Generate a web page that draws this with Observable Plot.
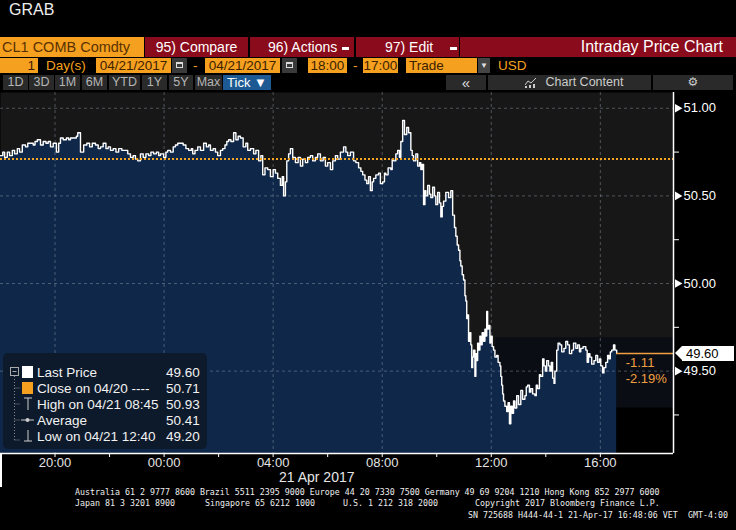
<!DOCTYPE html>
<html><head><meta charset="utf-8">
<script src="https://cdn.jsdelivr.net/npm/d3@7"></script>
<script src="https://cdn.jsdelivr.net/npm/@observablehq/plot@0.6"></script>
<style>
body{margin:0;background:#000;width:736px;height:530px;overflow:hidden;position:relative;font-family:"Liberation Sans",Arial,sans-serif;}
.a{position:absolute;white-space:pre;box-sizing:border-box;}
.r1{top:37px;height:20px;line-height:20px;font-size:14px;}
.red{background:#8a0b1b;color:#fff;}
.dash{display:inline-block;width:7px;height:3px;background:#fff;vertical-align:middle;margin-left:5px;}
.r2{top:58px;height:15px;line-height:15px;font-size:13.5px;}
.or{background:#f5a01e;color:#3d2200;}
.ot{color:#f5a01e;}
.ic{background:#3a3a3a;}
.ic i{position:absolute;left:4px;top:4px;width:7px;height:6px;border:1px solid #ddd;border-top-width:2px;box-sizing:border-box;}
.r3{top:75px;height:15px;line-height:15px;font-size:12.5px;background:#2a2a2a;color:#b5b5b5;text-align:center;}
.ft{font-family:"DejaVu Sans Mono",monospace;font-size:8.3px;color:#eee;line-height:11px;}
#chart{position:absolute;left:0;top:92px;}
#legend{left:3px;top:353px;width:204px;height:96px;background:#0d1a2b;border-radius:5px;}
#tag{height:15px;line-height:15px;background:#fff;color:#000;font-size:13px;padding-left:4px;width:52px;}
#tag:before{content:"";position:absolute;left:-7px;top:0;border-top:7.5px solid transparent;border-bottom:7.5px solid transparent;border-right:7px solid #fff;}
</style></head><body>

<div class="a" style="left:9px;top:1px;font-size:16px;color:#eee;">GRAB</div>

<div class="a r1" style="left:0;width:144px;background:#f5a01e;color:#5a3200;padding-left:2px;font-size:14.5px">CL1 COMB Comdty</div>
<div class="a r1 red" style="left:145px;width:103px;text-align:center">95) Compare</div>
<div class="a r1 red" style="left:250px;width:104px;padding-left:18px">96) Actions<span class="dash"></span></div>
<div class="a r1 red" style="left:356px;width:103px;padding-left:29px">97) Edit<span class="dash" style="margin-left:17px"></span></div>
<div class="a r1 red" style="left:460px;width:276px;text-align:right;padding-right:13px;font-size:16px">Intraday Price Chart</div>

<div class="a r2 or" style="left:0;width:38px;text-align:right;padding-right:3px">1</div>
<div class="a r2 ot" style="left:46px">Day(s)</div>
<div class="a r2 or" style="left:96px;width:75px;text-align:center">04/21/2017</div>
<div class="a r2 ic" style="left:172px;width:15px"><i></i></div>
<div class="a r2 ot" style="left:193px">-</div>
<div class="a r2 or" style="left:205px;width:75px;text-align:center">04/21/2017</div>
<div class="a r2 ic" style="left:282px;width:15px"><i></i></div>
<div class="a r2 or" style="left:308px;width:39px;text-align:center">18:00</div>
<div class="a r2 ot" style="left:353px">-</div>
<div class="a r2 or" style="left:363px;width:35px;text-align:center">17:00</div>
<div class="a r2 or" style="left:406px;width:71px;padding-left:3px">Trade</div>
<div class="a r2" style="left:478px;width:12px;background:#444;color:#ddd;font-size:8px;text-align:center">▼</div>
<div class="a r2 ot" style="left:498px">USD</div>

<div class="a r3" style="left:3px;width:25px">1D</div>
<div class="a r3" style="left:29px;width:25px">3D</div>
<div class="a r3" style="left:55px;width:25px">1M</div>
<div class="a r3" style="left:82px;width:25px">6M</div>
<div class="a r3" style="left:109px;width:31px">YTD</div>
<div class="a r3" style="left:142px;width:25px">1Y</div>
<div class="a r3" style="left:169px;width:24px">5Y</div>
<div class="a r3" style="left:195px;width:27px">Max</div>
<div class="a r3" style="left:223px;width:48px;background:#1d5a93;color:#fff;font-size:13px">Tick ▼</div>
<div class="a r3" style="left:446px;width:40px;font-size:15px;color:#ddd">«</div>
<div class="a r3" style="left:488px;width:163px;color:#ccc;padding-left:30px"><svg width="12" height="10" style="position:absolute;left:37px;top:3px"><polyline points="0,7 3,3 6,5 11,0" fill="none" stroke="#ccc" stroke-width="1"/><rect x="0" y="8" width="2" height="2" fill="#ccc"/><rect x="4" y="7" width="2" height="3" fill="#ccc"/><rect x="8" y="6" width="2" height="4" fill="#ccc"/></svg>Chart Content</div>
<div class="a r3" style="left:653px;width:80px;color:#ccc;font-family:'DejaVu Sans';font-size:12px">⚙</div>

<div id="chart"></div>
<div id="legend" class="a"></div>
<div id="tag" class="a"></div>

<div class="a" style="left:0;top:453px;width:1.5px;height:34px;background:#fff"></div>
<div class="a" style="left:279px;top:469px;font-size:14px;color:#e6e6e6">21 Apr 2017</div>

<div class="a ft" style="left:75px;top:486.5px">Australia 61 2 9777 8600 Brazil 5511 2395 9000 Europe 44 20 7330 7500 Germany 49 69 9204 1210 Hong Kong 852 2977 6000</div>
<div class="a ft" style="left:75px;top:497.5px">Japan 81 3 3201 8900</div>
<div class="a ft" style="left:205px;top:497.5px">Singapore 65 6212 1000</div>
<div class="a ft" style="left:343px;top:497.5px">U.S. 1 212 318 2000</div>
<div class="a ft" style="left:475px;top:497.5px">Copyright 2017 Bloomberg Finance L.P.</div>
<div class="a ft" style="left:468px;top:509.5px">SN 725688 H444-44-1 21-Apr-17 16:48:06 VET</div>
<div class="a ft" style="left:688px;top:509.5px">GMT-4:00</div>

<script>
// ---- data: CL1 tick prices, 20 Apr 18:00 -> 21 Apr 16:36 (times >= 18:00 are 20 Apr) ----
const tickTimes = [
 "18:00","18:05","18:09","18:15","18:20","18:26","18:31","18:37","18:42","18:48","18:55",
 "19:00","19:06","19:12","19:16","19:21","19:28","19:34","19:40","19:45","19:50","19:56",
 "20:03","20:08","20:12","20:18","20:25","20:30","20:34","20:42","20:47","20:50","20:56",
 "21:03","21:10","21:16","21:22","21:29","21:35","21:40","21:46","21:52","21:57",
 "22:02","22:08","22:14","22:20","22:27","22:35","22:40","22:46","22:52","22:57",
 "23:02","23:08","23:14","23:20","23:26","23:31","23:37","23:43","23:48","23:52","23:59",
 "00:04","00:08","00:14","00:20","00:25","00:30","00:36","00:42","00:48","00:54",
 "01:00","01:03","01:08","01:14","01:20","01:27","01:33","01:38","01:42","01:48","01:53","01:58",
 "02:04","02:09","02:14","02:18","02:22","02:27","02:33","02:38","02:43","02:48","02:54",
 "03:00","03:04","03:10","03:17","03:22","03:28","03:33","03:37","03:42","03:48","03:54",
 "04:00","04:05","04:10","04:16","04:20","04:23","04:27","04:30","04:34","04:38","04:43","04:49","04:55",
 "05:00","05:05","05:11","05:16","05:22","05:27","05:33","05:38","05:44","05:50","05:55",
 "06:00","06:06","06:11","06:17","06:22","06:28","06:35","06:40","06:44","06:50","06:57",
 "07:02","07:08","07:13","07:17","07:22","07:26","07:30","07:34","07:38","07:41","07:46","07:52","07:56",
 "08:01","08:05","08:08","08:13","08:19","08:22","08:25","08:30","08:34","08:38","08:41","08:45","08:49","08:54","08:58",
 "09:03","09:06","09:09","09:14","09:18","09:22","09:25","09:28","09:31","09:34","09:36","09:40","09:44","09:47","09:51","09:55","09:58",
 "10:02","10:06","10:09","10:12","10:15","10:20","10:26","10:31","10:35","10:39","10:42","10:45","10:48","10:51","10:53","10:56","10:59",
 "11:02","11:04","11:06","11:08","11:10","11:13","11:15","11:17","11:19","11:21","11:24","11:26","11:28","11:30","11:32","11:35","11:37","11:40","11:43","11:46","11:48","11:50","11:52","11:54","11:57","11:59",
 "12:02","12:05","12:08","12:12","12:15","12:19","12:21","12:23","12:25","12:27","12:30","12:34","12:37","12:40","12:43","12:46","12:49","12:52","12:56",
 "13:00","13:05","13:09","13:14","13:17","13:20","13:24","13:27","13:31","13:36","13:39","13:42","13:46","13:49","13:53","13:56","13:59",
 "14:02","14:06","14:09","14:12","14:15","14:18","14:20","14:24","14:27","14:31","14:35","14:40","14:44","14:48","14:52","14:57",
 "15:01","15:06","15:10","15:14","15:17","15:22","15:28","15:31","15:34","15:37","15:41","15:46","15:50","15:54","15:58",
 "16:01","16:05","16:08","16:12","16:16","16:19","16:22","16:25","16:29","16:32","16:36"
];
const tickPrices = [
 50.73,50.75,50.72,50.75,50.73,50.76,50.74,50.77,50.75,50.79,50.78,
 50.80,50.80,50.79,50.81,50.82,50.79,50.81,50.80,50.81,50.78,50.80,
 50.75,50.80,50.83,50.82,50.83,50.82,50.83,50.83,50.84,50.86,50.75,
 50.79,50.80,50.78,50.80,50.79,50.77,50.78,50.80,50.77,50.78,
 50.76,50.77,50.75,50.77,50.76,50.76,50.74,50.72,50.73,50.71,
 50.70,50.74,50.72,50.74,50.73,50.75,50.74,50.75,50.73,50.74,50.72,
 50.75,50.76,50.75,50.78,50.79,50.80,50.80,50.79,50.77,50.76,
 50.77,50.74,50.76,50.78,50.76,50.80,50.78,50.79,50.76,50.77,50.75,50.73,
 50.76,50.77,50.79,50.81,50.82,50.81,50.86,50.82,50.84,50.83,50.78,
 50.80,50.76,50.77,50.74,50.76,50.70,50.73,50.62,50.66,50.65,50.61,
 50.65,50.63,50.60,50.56,50.61,50.50,50.58,50.70,50.74,50.77,50.72,50.69,50.72,
 50.67,50.71,50.69,50.72,50.73,50.70,50.72,50.74,50.70,50.72,50.67,
 50.69,50.65,50.70,50.73,50.71,50.75,50.78,50.75,50.73,50.75,50.70,
 50.69,50.66,50.64,50.62,50.59,50.57,50.61,50.53,50.58,50.60,50.62,50.63,50.57,
 50.58,50.63,50.62,50.66,50.65,50.71,50.70,50.74,50.76,50.72,50.81,50.93,50.85,50.89,50.86,
 50.76,50.73,50.70,50.74,50.67,50.69,50.65,50.68,50.45,50.53,50.50,50.56,50.51,50.49,50.55,50.50,50.45,
 50.52,50.46,50.38,50.44,50.47,50.52,50.49,50.53,50.39,50.32,50.27,50.22,50.19,50.13,50.10,50.05,50.02,
 49.93,49.90,49.80,49.82,49.67,49.72,49.65,49.52,49.58,49.62,49.47,49.60,49.56,49.66,49.62,49.70,49.65,49.72,49.67,49.74,49.70,49.84,49.74,49.76,49.66,49.70,
 49.64,49.62,49.58,49.59,49.55,49.53,49.47,49.42,49.37,49.33,49.30,49.27,49.32,49.20,49.30,49.26,49.33,49.29,49.36,
 49.31,49.39,49.34,49.36,49.41,49.42,49.38,49.40,49.37,49.36,49.42,49.40,49.48,49.47,49.57,49.53,49.50,
 49.56,49.53,49.50,49.55,49.46,49.43,49.50,49.62,49.66,49.65,49.61,49.63,49.67,49.65,49.60,49.62,
 49.66,49.63,49.65,49.61,49.63,49.64,49.62,49.55,49.60,49.58,49.54,49.56,49.59,49.55,49.57,
 49.53,49.49,49.52,49.55,49.59,49.57,49.61,49.62,49.65,49.62,49.60
];
const closePrice = 50.71;
const lastPrice = 49.60;
const legendLabels = ["Last Price", "Close on 04/20 ----", "High on 04/21 08:45", "Average", "Low on 04/21 12:40"];
const legendValues = [49.60, 50.71, 50.93, 50.41, 49.20];
const xMajorLabels = ["20:00", "00:00", "04:00", "08:00", "12:00", "16:00"];
const xMinorLabels = ["20:00","22:00","00:00","02:00","04:00","06:00","08:00","10:00","12:00","14:00","16:00"];
const yMajor = [51.00, 50.50, 50.00, 49.50];
const yMinor = [50.75, 50.25, 49.75, 49.25];
const yDomain = [49.03, 51.09];
const sessionStart = "18:00", sessionEnd = "18:41";
// shaded range bands behind the afternoon trade
const bandStart = "12:10";
const bandDark = [49.29, 49.69];
const bandBlack = [49.03, 49.29];

const parseT = (s, nextDay) => {
  const [h, m] = s.split(":").map(Number);
  const day = nextDay ? 21 : (h >= 18 ? 20 : 21);
  return new Date(Date.UTC(2017, 3, day, h, m));
};
const data = tickTimes.map((t, i) => ({t: parseT(t), p: tickPrices[i]}));
const xStart = parseT(sessionStart), xEnd = parseT(sessionEnd, true);
const lastT = data[data.length - 1].t;
const fmt2 = d3.format(".2f");
const change = lastPrice - closePrice;

const chart = Plot.plot({
  width: 736, height: 395,
  marginLeft: 0, marginRight: 63, marginTop: 0, marginBottom: 34,
  style: {background: "transparent", color: "#fff", fontFamily: "Liberation Sans, Arial, sans-serif", fontSize: "13px", overflow: "visible"},
  x: {type: "utc", domain: [xStart, xEnd], label: null},
  y: {domain: yDomain, label: null},
  marks: [
    Plot.frame({fill: "#171717", stroke: null}),
    Plot.rect([bandDark], {x1: () => parseT(bandStart), x2: () => xEnd, y1: d => d[0], y2: d => d[1], fill: "#0b0d15"}),
    Plot.rect([bandBlack], {x1: () => parseT(bandStart), x2: () => xEnd, y1: d => d[0], y2: d => d[1], fill: "#000"}),
    Plot.area(data, {x1: "t", y1: () => yDomain[0], y2: "p", curve: "step-after", fill: "#0f2748"}),
    Plot.gridX({ticks: xMajorLabels.map(s => parseT(s)), stroke: "#aab8c8", strokeOpacity: 0.38, strokeDasharray: "3,3"}),
    Plot.gridY({ticks: yMajor, stroke: "#aab8c8", strokeOpacity: 0.38, strokeDasharray: "3,3"}),
    Plot.line(data, {x: "t", y: "p", curve: "step-after", stroke: "#fff", strokeWidth: 1.4}),
    Plot.ruleY([closePrice], {stroke: "#f5a623", strokeWidth: 2, strokeDasharray: "2,2"}),
    Plot.ruleY([lastPrice], {x1: lastT, x2: xEnd, stroke: "#f0a040", strokeWidth: 1.5}),
    Plot.text([change], {x: lastT, y: lastPrice, text: d => d.toFixed(2), dx: 9, dy: 9, textAnchor: "start", fill: "#f0a040", fontSize: 13}),
    Plot.text([change], {x: lastT, y: lastPrice, text: d => (d / closePrice * 100).toFixed(2) + "%", dx: 9, dy: 25, textAnchor: "start", fill: "#f0a040", fontSize: 13}),
    Plot.ruleY([yDomain[0]], {stroke: "#fff", strokeWidth: 1.5}),
    Plot.ruleX([xEnd], {stroke: "#fff", strokeWidth: 1.5}),
    Plot.axisX({ticks: xMinorLabels.map(s => parseT(s)), tickSize: 4, tickFormat: () => "", stroke: "#fff"}),
    Plot.axisX({ticks: xMajorLabels.map(s => parseT(s)), tickSize: 0, tickPadding: 4, tickFormat: d3.utcFormat("%H:%M"), fill: "#e4e4e4", fontSize: 13}),
    Plot.axisY({anchor: "right", ticks: yMinor, tickSize: 5, tickFormat: () => "", stroke: "#fff"}),
    Plot.axisY({anchor: "right", ticks: yMajor, tickSize: 0, tickPadding: 10, tickFormat: fmt2, fill: "#fff", fontSize: 13}),
    Plot.dot(yMajor, {y: d => d, frameAnchor: "right", symbol: "triangle", r: 3.2, rotate: 90, fill: "#fff", stroke: null, dx: 4})
  ]
});
document.getElementById("chart").appendChild(chart);

// last price tag on the axis, placed through the chart's scales
const ys = chart.scale("y"), xs = chart.scale("x");
const yy = ys.apply(lastPrice), xr = xs.apply(xEnd);
const tag = document.getElementById("tag");
tag.textContent = fmt2(lastPrice);
tag.style.left = (xr + 9) + "px";
tag.style.top = (92 + yy - 7.5) + "px";

// legend
const lg = d3.select("#legend").append("svg").attr("width", 204).attr("height", 96)
  .style("font-family", "Liberation Sans, Arial, sans-serif");
const rowY = i => 19 + i * 16;
lg.append("rect").attr("x", 7.5).attr("y", rowY(0) - 4.5).attr("width", 8).attr("height", 8)
  .attr("fill", "none").attr("stroke", "#aaa");
lg.append("line").attr("x1", 9.5).attr("x2", 13.5).attr("y1", rowY(0) - 0.5).attr("y2", rowY(0) - 0.5).attr("stroke", "#aaa");
lg.append("line").attr("x1", 11.5).attr("x2", 11.5).attr("y1", rowY(0) + 4).attr("y2", rowY(4) + 4)
  .attr("stroke", "#888").attr("stroke-dasharray", "1,2");
for (let i = 1; i < 5; i++) {
  lg.append("line").attr("x1", 11.5).attr("x2", 17).attr("y1", rowY(i) + (i === 4 ? 4 : 0)).attr("y2", rowY(i) + (i === 4 ? 4 : 0))
    .attr("stroke", "#888").attr("stroke-dasharray", "1,1");
}
lg.append("rect").attr("x", 19).attr("y", rowY(0) - 6).attr("width", 11).attr("height", 12).attr("fill", "#fff");
lg.append("rect").attr("x", 19).attr("y", rowY(1) - 6).attr("width", 11).attr("height", 12).attr("fill", "#f5a01e");
lg.append("path").attr("d", `M21,${rowY(2) - 6} H29 M25,${rowY(2) - 6} V${rowY(2) + 6}`).attr("stroke", "#ccc").attr("fill", "none");
lg.append("path").attr("d", `M18,${rowY(3)} H31`).attr("stroke", "#ccc");
lg.append("circle").attr("cx", 24.5).attr("cy", rowY(3)).attr("r", 2).attr("fill", "#ccc");
lg.append("path").attr("d", `M25,${rowY(4) - 6} V${rowY(4) + 5} M21,${rowY(4) + 5} H29`).attr("stroke", "#ccc").attr("fill", "none");
legendLabels.forEach((lab, i) => {
  lg.append("text").attr("x", 34).attr("y", rowY(i)).attr("dy", "0.35em").attr("fill", "#f2f2f2")
    .attr("font-size", 13.5).text(lab);
  lg.append("text").attr("x", 163).attr("y", rowY(i)).attr("dy", "0.35em").attr("fill", "#f2f2f2")
    .attr("font-size", 13.5).text(fmt2(legendValues[i]));
});
</script>
</body></html>
